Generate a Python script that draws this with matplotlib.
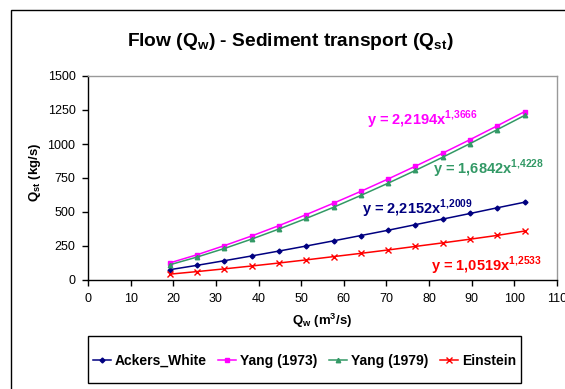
import matplotlib
matplotlib.use("Agg")
import matplotlib.pyplot as plt
from matplotlib.patches import Rectangle

plt.rcParams['font.family'] = ['Liberation Sans', 'DejaVu Sans']
plt.rcParams['mathtext.fontset'] = 'custom'
plt.rcParams['mathtext.rm'] = 'Liberation Sans'
plt.rcParams['mathtext.bf'] = 'Liberation Sans:bold'

# flow values (m3/s)
qw = [19.2, 25.6, 32.0, 38.4, 44.8, 51.2, 57.6, 64.0, 70.4, 76.8, 83.2, 89.6, 96.0, 102.4]

# sediment transport (kg/s)
ackers_white = [76, 108, 142, 177, 213, 250, 288, 327, 366, 407, 448, 489, 531, 572]
yang_1973 = [126, 186, 253, 324, 400, 481, 565, 652, 743, 837, 933, 1032, 1134, 1238]
yang_1979 = [112, 169, 232, 301, 375, 453, 535, 622, 712, 806, 903, 1003, 1106, 1210]
einstein = [43, 62, 82, 103, 125, 148, 172, 196, 221, 247, 273, 300, 328, 360]

series_names = ["Ackers_White", "Yang (1973)", "Yang (1979)", "Einstein"]
equations = [r"y = 2,2152x$^{\mathbf{1{,}2009}}$",
             r"y = 2,2194x$^{\mathbf{1{,}3666}}$",
             r"y = 1,6842x$^{\mathbf{1{,}4228}}$",
             r"y = 1,0519x$^{\mathbf{1{,}2533}}$"]

NAVY = "#000080"
MAGENTA = "#FF00FF"
GREEN = "#339966"
RED = "#FF0000"

W, H = 565, 389
fig = plt.figure(figsize=(W / 100, H / 100), dpi=100)

# outer chart frame (runs off the right and bottom edges)
fig.patches.append(Rectangle((11 / W, -0.1), 1.2, 1.1 - 10 / H,
                             transform=fig.transFigure, fill=False,
                             edgecolor="black", linewidth=1.0))
# legend frame
fig.patches.append(Rectangle((88 / W, 6 / H), (521 - 88) / W, 47 / H,
                             transform=fig.transFigure, fill=False,
                             edgecolor="black", linewidth=1.0))

ax = fig.add_axes([88 / W, (H - 280) / H, (557 - 88) / W, (280 - 76) / H])

ax.plot(qw, ackers_white, '-', color=NAVY, marker='D', markersize=2.5, linewidth=1.1,
        label=series_names[0])
ax.plot(qw, yang_1973, '-', color=MAGENTA, marker='s', markersize=3.2, linewidth=1.1,
        label=series_names[1])
ax.plot(qw, yang_1979, '-', color=GREEN, marker='^', markersize=3.2, linewidth=1.1,
        label=series_names[2])
ax.plot(qw, einstein, '-', color=RED, marker='x', markersize=4.5, linewidth=1.1,
        markeredgewidth=1.0, label=series_names[3])

# trendline equations
eq_style = dict(fontsize=10.5, fontweight='bold', va='center', ha='left')
ax.text(64.3, 525, equations[0], color=NAVY, **eq_style)
ax.text(65.5, 1175, equations[1], color=MAGENTA, **eq_style)
ax.text(80.8, 820, equations[2], color=GREEN, **eq_style)
ax.text(80.5, 103, equations[3], color=RED, **eq_style)

ax.set_xlim(0, 110)
ax.set_ylim(0, 1500)
ax.set_xticks(range(0, 111, 10))
ax.set_yticks(range(0, 1501, 250))
ax.tick_params(axis='both', direction='out', length=4, width=1, labelsize=9,
               colors='black', pad=5)

for side in ('left', 'bottom'):
    ax.spines[side].set_color('black')
    ax.spines[side].set_linewidth(1.0)
for side in ('top', 'right'):
    ax.spines[side].set_color('#999999')
    ax.spines[side].set_linewidth(1.0)

fig.text(290 / W, 1 - 42 / H, r"Flow (Q$_{\mathbf{w}}$) - Sediment transport (Q$_{\mathbf{st}}$)",
         fontsize=13.8, fontweight='bold', ha='center', va='center')
fig.text(322 / W, 1 - 321 / H, r"Q$_{\mathbf{w}}$ (m$^{\mathbf{3}}$/s)",
         fontsize=9.5, fontweight='bold', ha='center', va='center')
fig.text(35 / W, 1 - 172 / H, r"Q$_{\mathbf{st}}$ (kg/s)",
         fontsize=9.5, fontweight='bold', ha='center', va='center', rotation=90)

leg = fig.legend(loc='center', bbox_to_anchor=(304.5 / W, 28 / H), ncol=4,
                 frameon=False, handlelength=1.3, handletextpad=0.27,
                 columnspacing=0.85, borderpad=0.3, prop={'weight': 'bold', 'size': 10})

fig.savefig("out.png", dpi=100)
